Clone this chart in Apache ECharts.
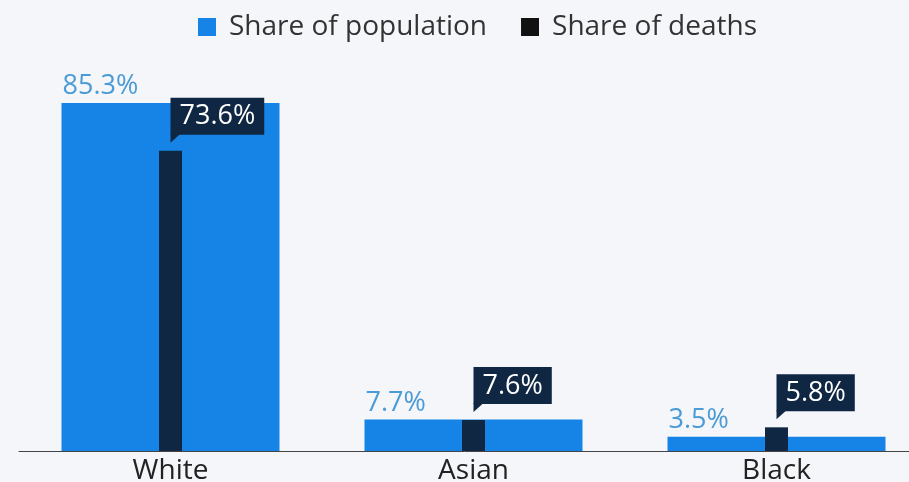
<!DOCTYPE html>
<html>
<head>
<meta charset="utf-8">
<title>Share of population vs. share of deaths</title>
<script src="https://cdn.jsdelivr.net/npm/echarts@6/dist/echarts.min.js"></script>
<style>
  html, body { margin: 0; padding: 0; background: #f4f6f9; }
  #chart { width: 909px; height: 482px; }
</style>
</head>
<body>
<div id="chart"></div>
<script>
// Groups shown on the category axis
const categories = ['White', 'Asian', 'Black'];
// Percent of the population in each group
const populationShare = [85.3, 7.7, 3.5];
// Percent of deaths in each group
const deathShare = [73.6, 7.6, 5.8];

const BLUE = '#1584e6';
const NAVY = '#0f2742';
const FONT = '"Open Sans", "Noto Sans", sans-serif';

const chart = echarts.init(document.getElementById('chart'), null, { renderer: 'canvas' });

// Callout box with a small tail, anchored at the top centre of each deaths bar
function renderCallout(params, api) {
  const pt = api.coord([api.value(0), api.value(1)]);
  const x = pt[0];
  const y = pt[1];
  const boxBottom = y - 16;
  const text = api.value(1).toFixed(1) + '%';
  return {
    type: 'group',
    children: [
      {
        type: 'polygon',
        shape: { points: [[x, boxBottom - 1], [x + 10, boxBottom - 1], [x, y - 8]] },
        style: { fill: NAVY }
      },
      {
        type: 'text',
        x: x,
        y: boxBottom,
        style: {
          text: text,
          fill: '#ffffff',
          font: '500 27px ' + FONT,
          align: 'left',
          verticalAlign: 'bottom',
          backgroundColor: NAVY,
          padding: [5, 9, 4, 9],
          lineHeight: 28
        }
      }
    ]
  };
}

chart.setOption({
  backgroundColor: '#f4f6f9',
  animation: false,
  legend: {
    top: 8,
    left: 193,
    icon: 'rect',
    itemWidth: 18,
    itemHeight: 18,
    itemGap: 34,
    textStyle: {
      fontFamily: FONT,
      fontSize: 28,
      color: '#333333',
      padding: [0, 0, 0, 8]
    },
    data: [
      { name: 'Share of population', itemStyle: { color: BLUE } },
      { name: 'Share of deaths', itemStyle: { color: '#111111' } }
    ]
  },
  grid: {
    left: 19,
    right: -19,
    top: 43,
    bottom: 31,
    containLabel: false,
    outerBoundsMode: 'none'
  },
  xAxis: [
    {
      type: 'category',
      data: categories,
      axisTick: { show: false },
      axisLine: { show: true, lineStyle: { color: '#444444', width: 1 } },
      axisLabel: {
        fontFamily: FONT,
        fontSize: 28,
        color: '#222222',
        margin: 6
      }
    },
    {
      type: 'category',
      data: categories,
      show: false
    }
  ],
  yAxis: {
    type: 'value',
    min: 0,
    max: 100,
    show: false,
    splitLine: { show: false }
  },
  series: [
    {
      name: 'Share of population',
      type: 'bar',
      xAxisIndex: 0,
      barWidth: 218,
      data: populationShare,
      itemStyle: { color: BLUE },
      label: {
        show: true,
        position: [1, -3],
        align: 'left',
        verticalAlign: 'bottom',
        formatter: p => p.value.toFixed(1) + '%',
        fontFamily: FONT,
        fontSize: 27,
        color: '#4a9bd6'
      },
      z: 2
    },
    {
      name: 'Share of deaths',
      type: 'bar',
      xAxisIndex: 1,
      barWidth: 23,
      data: deathShare,
      itemStyle: { color: NAVY },
      z: 3
    },
    {
      name: 'Share of deaths',
      type: 'custom',
      xAxisIndex: 1,
      renderItem: renderCallout,
      data: deathShare.map((v, i) => [i, v]),
      encode: { x: 0, y: 1 },
      z: 4
    }
  ]
});
</script>
</body>
</html>
